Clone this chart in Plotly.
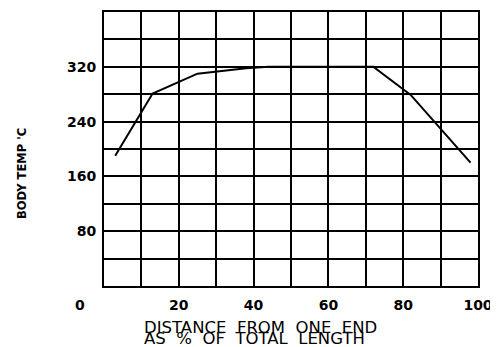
import plotly.graph_objects as go

# Data
distance_pct = [3, 13, 25, 38, 44, 72, 82, 98]
body_temp_c = [190, 281, 310, 318, 320, 320, 279, 180]

x_grid = [0, 10, 20, 30, 40, 50, 60, 70, 80, 90, 100]
x_labels = ["", "", "20", "", "40", "", "60", "", "80", "", "100"]
y_grid = [0, 40, 80, 120, 160, 200, 240, 280, 320, 360, 400]
y_labels = ["", "", "80", "", "160", "", "240", "", "320", "", ""]

x_title_words = [["DISTANCE", "FROM", "ONE", "END"], ["AS", "%", "OF", "TOTAL", "LENGTH"]]
y_title = "BODY TEMP 'C"
origin_label = "0"

tick_font = dict(family="DejaVu Sans", size=14, color="black", weight="bold")
title_font = dict(family="DejaVu Sans", size=16.5, color="black")
gap = "\u00a0\u00a0"

# The page body has an 8px margin, so the figure is drawn 8px in from the
# window corner; size it to fill the visible 498x347 window.
# Plot area in window pixels: x 104..478, y 12..286
def px_x(p):
    return (p - 104) / 374.0

def px_y(p):
    return (286 - p) / 274.0

fig = go.Figure()
fig.add_trace(go.Scatter(
    x=distance_pct, y=body_temp_c, mode="lines",
    line=dict(color="black", width=2), showlegend=False,
))

fig.update_xaxes(
    range=[0, 100], tickmode="array", tickvals=x_grid, ticktext=x_labels,
    showgrid=True, gridcolor="black", gridwidth=2,
    showline=True, linecolor="black", linewidth=2, mirror=True,
    zeroline=False, ticks="", tickfont=tick_font, ticklabelstandoff=5,
    automargin=False,
)
fig.update_yaxes(
    range=[0, 400], tickmode="array", tickvals=y_grid, ticktext=y_labels,
    showgrid=True, gridcolor="black", gridwidth=2,
    showline=True, linecolor="black", linewidth=2, mirror=True,
    zeroline=False, ticks="", tickfont=tick_font, ticklabelstandoff=3,
    automargin=False,
)

annotations = [
    dict(text=origin_label, xref="paper", yref="paper", x=px_x(80), y=px_y(305),
         showarrow=False, font=tick_font, xanchor="center", yanchor="middle"),
    dict(text=y_title, xref="paper", yref="paper", x=px_x(22), y=px_y(174),
         textangle=-90, showarrow=False, xanchor="center", yanchor="middle",
         font=dict(family="DejaVu Sans", size=11.5, color="black", weight="bold")),
    dict(text=gap.join(x_title_words[0]), xref="paper", yref="paper",
         x=px_x(142), y=px_y(327), showarrow=False,
         xanchor="left", yanchor="middle", font=title_font),
    dict(text=gap.join(x_title_words[1]), xref="paper", yref="paper",
         x=px_x(142), y=px_y(338), showarrow=False,
         xanchor="left", yanchor="middle", font=title_font),
]

fig.update_layout(
    width=490, height=339,
    margin=dict(l=96, r=20, t=4, b=61, autoexpand=False),
    paper_bgcolor="white", plot_bgcolor="white",
    annotations=annotations,
)

fig.write_html("out.html")
